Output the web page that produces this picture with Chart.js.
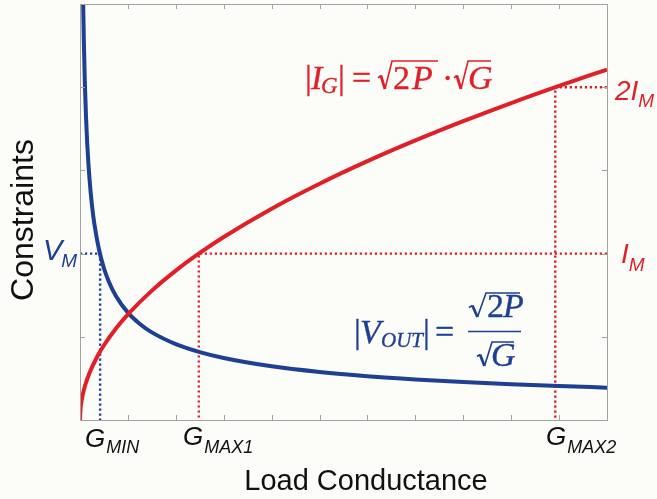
<!DOCTYPE html>
<html>
<head>
<meta charset="utf-8">
<title>Load Conductance constraints</title>
<script src="https://cdn.jsdelivr.net/npm/chart.js@4.4.1/dist/chart.umd.min.js"></script>
<style>
  html, body { margin: 0; padding: 0; background: #fcfcf9; }
  canvas { display: block; }
</style>
</head>
<body>
<canvas id="my_chart" width="657" height="499"></canvas>
<script>
(function () {
    "use strict";

    // |I_G| = sqrt(2P) * sqrt(G), sampled along the conductance axis
    var gIg = [0, 0.01, 0.02, 0.05, 0.1, 0.2, 0.35, 0.5, 0.75, 1, 1.5, 2, 2.5, 3, 4, 5, 6, 7, 8, 9, 10, 11];
    var igValues = [0, 0.127, 0.18, 0.284, 0.402, 0.568, 0.751, 0.898, 1.1, 1.27, 1.555, 1.796, 2.008, 2.2, 2.54, 2.84, 3.111, 3.36, 3.592, 3.81, 4.016, 4.212];

    // |V_OUT| = sqrt(2P) / sqrt(G)
    var gVout = [0.0666, 0.08, 0.1, 0.125, 0.15, 0.2, 0.25, 0.3, 0.4, 0.5, 0.6, 0.75, 1, 1.25, 1.5, 2, 2.5, 3, 4, 5, 6, 7, 8, 9, 10, 11];
    var voutValues = [5.0, 4.561, 4.079, 3.649, 3.331, 2.885, 2.58, 2.355, 2.04, 1.824, 1.665, 1.49, 1.29, 1.154, 1.053, 0.912, 0.816, 0.745, 0.645, 0.577, 0.527, 0.488, 0.456, 0.43, 0.408, 0.389];

    // limits
    var vM = 2;
    var iM = 2;
    var gMin = 0.42;
    var gMax1 = 2.48;
    var gMax2 = 9.92;

    var xTicks = [1, 2, 3, 4, 5, 6, 7, 8, 9, 10];
    var yTicks = [1, 2, 3, 4];

    var RED = "#e11f26";
    var BLUE = "#1e3f92";
    var FRAME = "#a3a3a3";

    function pts(xs, ys) {
        return xs.map(function (x, i) { return { x: x, y: ys[i] }; });
    }

    function dotted(color, points) {
        return {
            data: points,
            showLine: true,
            borderColor: color,
            borderWidth: 2.4,
            borderDash: [2.2, 2.8],
            pointRadius: 0,
            tension: 0,
            order: 3,
        };
    }

    var datasets = [
        {
            data: pts(gIg, igValues),
            showLine: true,
            borderColor: RED,
            borderWidth: 4,
            pointRadius: 0,
            cubicInterpolationMode: "monotone",
            order: 1,
        },
        {
            data: pts(gVout, voutValues),
            showLine: true,
            borderColor: BLUE,
            borderWidth: 4,
            pointRadius: 0,
            cubicInterpolationMode: "monotone",
            order: 2,
        },
        dotted(BLUE, [{ x: 0, y: vM }, { x: gMin, y: vM }, { x: gMin, y: 0 }]),
        dotted(RED, [{ x: 11, y: iM }, { x: gMax1, y: iM }, { x: gMax1, y: 0 }]),
        dotted(RED, [{ x: 11, y: 2 * iM }, { x: gMax2, y: 2 * iM }, { x: gMax2, y: 0 }]),
    ];

    // text helpers
    function sans(size) { return "italic " + size + 'px "Liberation Sans", Arial, sans-serif'; }
    function serif(size, italic) { return (italic ? "italic " : "") + size + 'px "Liberation Serif", "Times New Roman", serif'; }

    function put(ctx, text, font, x, y) {
        ctx.font = font;
        ctx.fillText(text, x, y);
        return x + ctx.measureText(text).width;
    }

    // serif math glyphs, slightly thickened
    function math(ctx, text, size, italic, x, y) {
        ctx.font = serif(size, italic);
        ctx.lineWidth = 0.35;
        ctx.fillText(text, x, y);
        ctx.strokeText(text, x, y);
    }

    // radical sign with overline from x to end, top at y - h
    function radical(ctx, x, y, w, h, end) {
        var top = y - h;
        ctx.lineJoin = "miter";
        ctx.beginPath();
        ctx.moveTo(x, y - h * 0.42);
        ctx.lineTo(x + w * 0.2, y - h * 0.5);
        ctx.lineWidth = 1.7;
        ctx.stroke();
        ctx.beginPath();
        ctx.moveTo(x + w * 0.2, y - h * 0.5);
        ctx.lineTo(x + w * 0.5, y - 1);
        ctx.lineWidth = 2.8;
        ctx.stroke();
        ctx.beginPath();
        ctx.moveTo(x + w * 0.5, y - 1);
        ctx.lineTo(x + w, top);
        ctx.lineTo(end, top);
        ctx.lineWidth = 1.6;
        ctx.stroke();
    }

    var decorations = {
        id: "decorations",
        beforeDraw: function (chart) {
            var ctx = chart.ctx;
            ctx.save();
            ctx.fillStyle = "#fcfcf9";
            ctx.fillRect(0, 0, chart.width, chart.height);
            ctx.restore();
        },
        afterDatasetsDraw: function (chart) {
            var ctx = chart.ctx;
            var a = chart.chartArea;
            var xs = chart.scales.x;
            var ys = chart.scales.y;

            ctx.save();
            // frame and inward ticks on all four sides
            ctx.strokeStyle = FRAME;
            ctx.lineWidth = 1;
            ctx.strokeRect(Math.round(a.left) + 0.5, Math.round(a.top) + 0.5,
                Math.round(a.right - a.left), Math.round(a.bottom - a.top));
            ctx.beginPath();
            xTicks.forEach(function (v) {
                var px = Math.round(xs.getPixelForValue(v)) + 0.5;
                ctx.moveTo(px, a.bottom); ctx.lineTo(px, a.bottom - 5);
                ctx.moveTo(px, a.top); ctx.lineTo(px, a.top + 5);
            });
            yTicks.forEach(function (v) {
                var py = Math.round(ys.getPixelForValue(v)) + 0.5;
                ctx.moveTo(a.left, py); ctx.lineTo(a.left + 5, py);
                ctx.moveTo(a.right, py); ctx.lineTo(a.right - 5, py);
            });
            ctx.stroke();

            // axis titles
            ctx.fillStyle = "#111";
            ctx.textBaseline = "alphabetic";
            ctx.textAlign = "center";
            ctx.font = '29px "Liberation Sans", Arial, sans-serif';
            ctx.fillText("Load Conductance", 366, 490);
            ctx.save();
            ctx.translate(33, 220);
            ctx.rotate(-Math.PI / 2);
            ctx.font = '32px "Liberation Sans", Arial, sans-serif';
            ctx.fillText("Constraints", 0, 0);
            ctx.restore();
            ctx.textAlign = "left";

            // conductance markers under the axis
            ctx.fillStyle = "#111";
            var e = put(ctx, "G", sans(26), 85, 447);
            put(ctx, "MIN", sans(18), e + 1, 453);
            e = put(ctx, "G", sans(26), 183, 445);
            put(ctx, "MAX1", sans(18), e + 1, 453);
            e = put(ctx, "G", sans(26), 546, 445);
            put(ctx, "MAX2", sans(18), e + 1, 453);

            // limit labels
            ctx.fillStyle = BLUE;
            e = put(ctx, "V", sans(29), 43, 260);
            put(ctx, "M", sans(19), e - 1, 267);
            ctx.fillStyle = RED;
            e = put(ctx, "I", sans(28), 621, 263);
            put(ctx, "M", sans(19), e + 0, 271);
            e = put(ctx, "2I", sans(28), 615, 100);
            put(ctx, "M", sans(19), e + 0, 107);

            // |I_G| = sqrt(2P) * sqrt(G)
            ctx.fillStyle = RED;
            ctx.strokeStyle = RED;
            math(ctx, "|", 34, false, 305, 89);
            math(ctx, "I", 34, true, 311, 89);
            math(ctx, "G", 23, true, 321, 93);
            math(ctx, "|", 34, false, 338, 89);
            math(ctx, "=", 34, false, 352, 89);
            radical(ctx, 378, 90, 14, 29, 438);
            math(ctx, "2", 34, false, 393, 89);
            math(ctx, "P", 34, true, 412, 89);
            math(ctx, "·", 34, false, 442, 89);
            radical(ctx, 454, 90, 14, 29, 491);
            math(ctx, "G", 34, true, 468, 89);

            // |V_OUT| = sqrt(2P) / sqrt(G)
            ctx.fillStyle = BLUE;
            ctx.strokeStyle = BLUE;
            math(ctx, "|", 34, false, 354, 343);
            math(ctx, "V", 34, true, 360, 343);
            math(ctx, "OUT", 21, true, 381, 347);
            math(ctx, "|", 34, false, 423, 343);
            math(ctx, "=", 34, false, 435, 343);
            ctx.lineWidth = 1.7;
            ctx.beginPath();
            ctx.moveTo(468, 331.5); ctx.lineTo(521, 331.5);
            ctx.stroke();
            radical(ctx, 469, 318, 17, 25, 520);
            math(ctx, "2", 34, false, 487, 317);
            math(ctx, "P", 34, true, 503, 317);
            radical(ctx, 477, 367, 15, 25, 514);
            math(ctx, "G", 34, true, 491, 366);

            ctx.restore();
        },
    };

    var ctx = document.getElementById("my_chart").getContext("2d");

    new Chart(ctx, {
        type: "scatter",
        data: { datasets: datasets },
        options: {
            responsive: false,
            animation: false,
            events: [],
            layout: { padding: { left: 80, right: 50, top: 4, bottom: 79 } },
            plugins: {
                legend: { display: false },
                tooltip: { enabled: false },
            },
            scales: {
                x: { type: "linear", min: 0, max: 11, display: false },
                y: { type: "linear", min: 0, max: 5, display: false },
            },
        },
        plugins: [decorations],
    });
})();
</script>
</body>
</html>
